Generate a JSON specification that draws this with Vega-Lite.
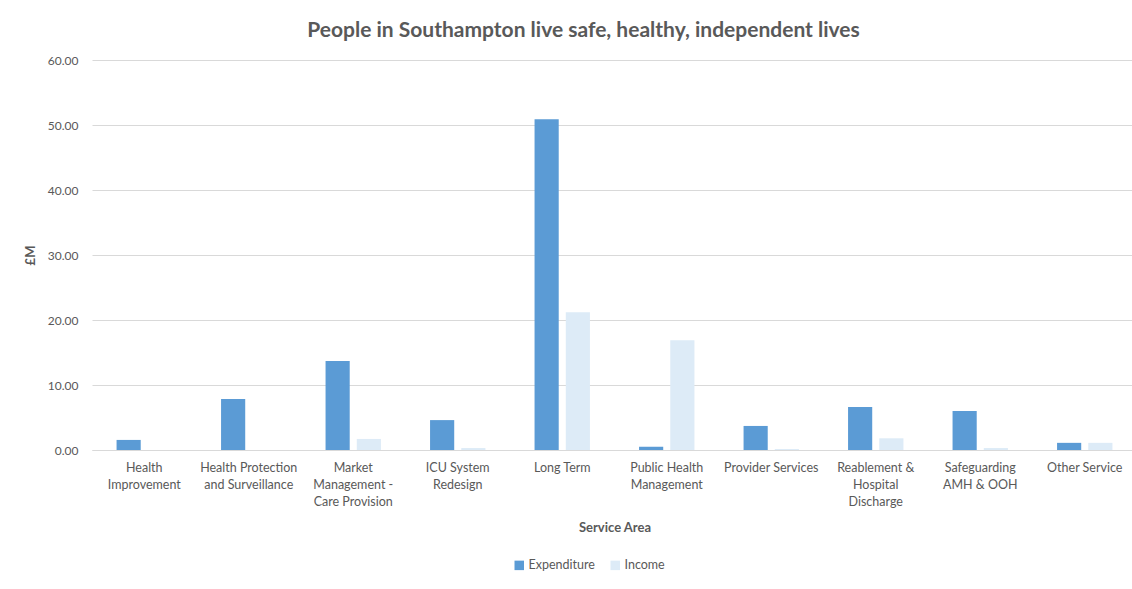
{
  "$schema": "https://vega.github.io/schema/vega-lite/v6.json",
  "autosize": {"type": "none"},
  "padding": {"left": 92, "top": 60, "right": 0, "bottom": 139},
  "width": 1045,
  "height": 390,
  "background": "white",
  "title": {
    "text": "People in Southampton live safe, healthy, independent lives",
    "anchor": "middle",
    "frame": "group",
    "dx": -31,
    "fontSize": 21,
    "font": "Lato",
    "fontWeight": "bold",
    "color": "#595959",
    "offset": 13
  },
  "data": {
    "values": [
      {"area": "Health Improvement", "type": "Expenditure", "value": 1.55},
      {"area": "Health Improvement", "type": "Income", "value": 0.0},
      {"area": "Health Protection and Surveillance", "type": "Expenditure", "value": 7.85},
      {"area": "Health Protection and Surveillance", "type": "Income", "value": 0.0},
      {"area": "Market Management - Care Provision", "type": "Expenditure", "value": 13.7},
      {"area": "Market Management - Care Provision", "type": "Income", "value": 1.7},
      {"area": "ICU System Redesign", "type": "Expenditure", "value": 4.6},
      {"area": "ICU System Redesign", "type": "Income", "value": 0.3},
      {"area": "Long Term", "type": "Expenditure", "value": 50.9},
      {"area": "Long Term", "type": "Income", "value": 21.2},
      {"area": "Public Health Management", "type": "Expenditure", "value": 0.5},
      {"area": "Public Health Management", "type": "Income", "value": 16.9},
      {"area": "Provider Services", "type": "Expenditure", "value": 3.7},
      {"area": "Provider Services", "type": "Income", "value": 0.15},
      {"area": "Reablement & Hospital Discharge", "type": "Expenditure", "value": 6.6},
      {"area": "Reablement & Hospital Discharge", "type": "Income", "value": 1.8},
      {"area": "Safeguarding AMH & OOH", "type": "Expenditure", "value": 6.0},
      {"area": "Safeguarding AMH & OOH", "type": "Income", "value": 0.3},
      {"area": "Other Service", "type": "Expenditure", "value": 1.1},
      {"area": "Other Service", "type": "Income", "value": 1.1}
    ]
  },
  "mark": {"type": "bar"},
  "encoding": {
    "x": {
      "field": "area",
      "type": "nominal",
      "sort": null,
      "scale": {"paddingInner": 0.47, "paddingOuter": 0.235},
      "axis": {
        "title": "Service Area",
        "labelAngle": 0,
        "ticks": false,
        "domainColor": "#d9d9d9",
        "labelPadding": 11,
        "labelLineHeight": 17,
        "labelLimit": 200,
        "labelFontSize": 12.5,
        "titlePadding": 14,
        "labelExpr": "datum.label == 'Health Improvement' ? ['Health', 'Improvement'] : datum.label == 'Health Protection and Surveillance' ? ['Health Protection', 'and Surveillance'] : datum.label == 'Market Management - Care Provision' ? ['Market', 'Management -', 'Care Provision'] : datum.label == 'ICU System Redesign' ? ['ICU System', 'Redesign'] : datum.label == 'Public Health Management' ? ['Public Health', 'Management'] : datum.label == 'Reablement & Hospital Discharge' ? ['Reablement &', 'Hospital', 'Discharge'] : datum.label == 'Safeguarding AMH & OOH' ? ['Safeguarding', 'AMH & OOH'] : datum.label"
      }
    },
    "xOffset": {
      "field": "type",
      "type": "nominal",
      "scale": {"paddingInner": 0.226, "paddingOuter": 0}
    },
    "y": {
      "field": "value",
      "type": "quantitative",
      "scale": {"domain": [0, 60], "nice": false},
      "axis": {
        "title": "£M",
        "values": [0, 10, 20, 30, 40, 50, 60],
        "format": ".2f",
        "ticks": false,
        "domain": false,
        "gridColor": "#d9d9d9",
        "labelPadding": 14,
        "labelFontSize": 12,
        "titlePadding": 10
      }
    },
    "color": {
      "field": "type",
      "type": "nominal",
      "scale": {"domain": ["Expenditure", "Income"], "range": ["#5b9bd5", "#ddebf7"]},
      "legend": {
        "title": null,
        "orient": "none",
        "direction": "horizontal",
        "legendX": 421,
        "legendY": 499,
        "symbolType": "square",
        "symbolSize": 90,
        "symbolStrokeWidth": 0,
        "labelFontSize": 12.5,
        "labelOffset": 3,
        "columnPadding": 14
      }
    }
  },
  "config": {
    "font": "Lato",
    "view": {"stroke": null},
    "axis": {
      "labelFont": "Lato",
      "labelFontSize": 12,
      "labelColor": "#595959",
      "titleFont": "Lato",
      "titleFontSize": 13,
      "titleFontWeight": "bold",
      "titleColor": "#595959"
    },
    "legend": {"labelFont": "Lato", "labelColor": "#595959"}
  }
}
